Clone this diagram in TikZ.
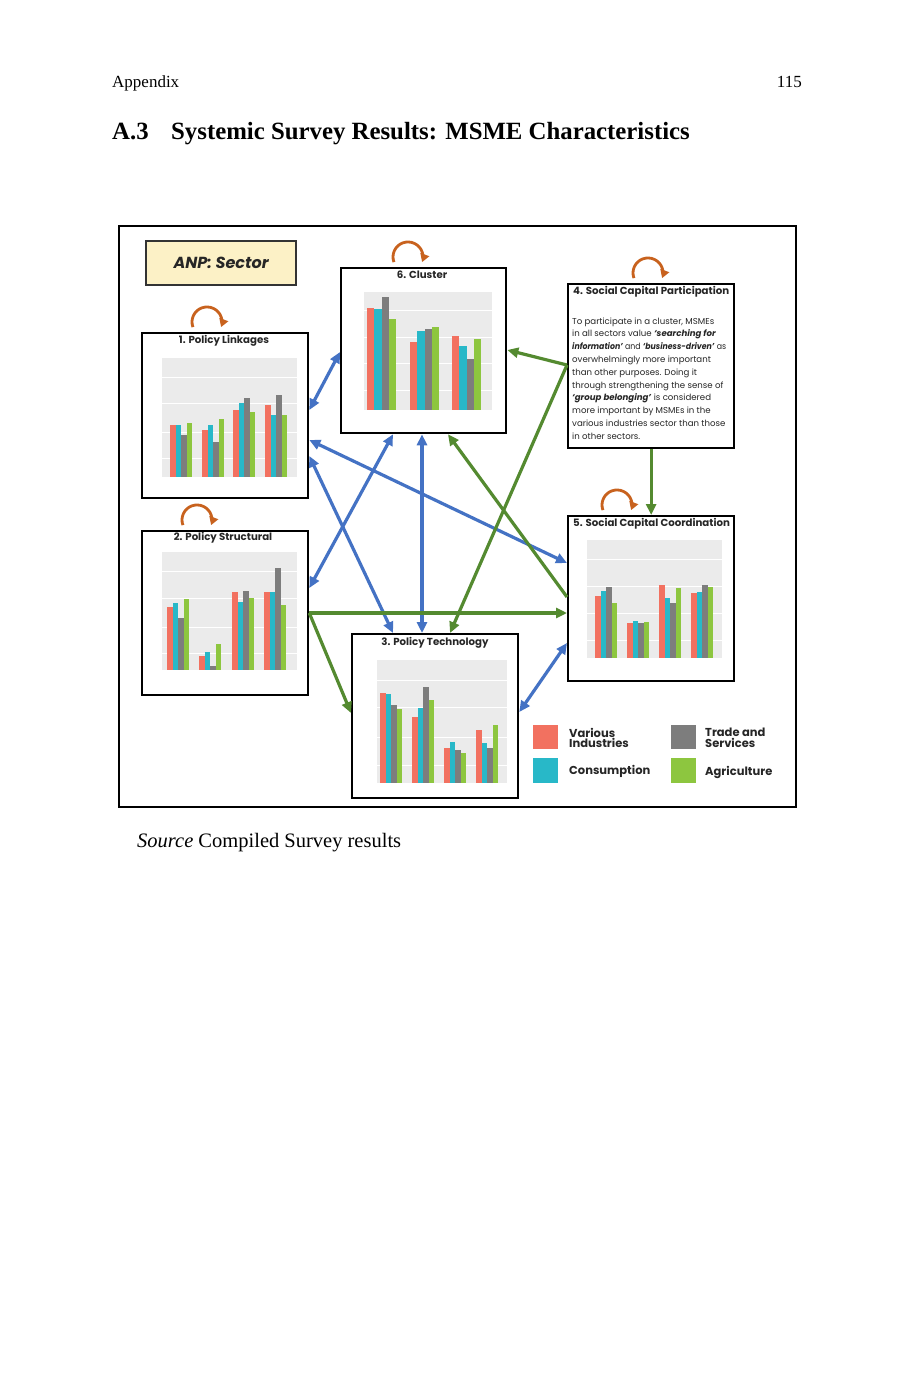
\documentclass[tikz,border=0pt]{standalone}
\usepackage{fontspec}
\usepackage{graphicx}
\setmainfont{Liberation Serif}
\newfontfamily\gf{Poppins}
\usetikzlibrary{arrows.meta,calc}
\definecolor{cVI}{RGB}{242,113,96}
\definecolor{cCO}{RGB}{40,184,200}
\definecolor{cTS}{RGB}{125,125,125}
\definecolor{cAG}{RGB}{141,198,63}
\definecolor{cBL}{RGB}{68,114,196}
\definecolor{cGR}{RGB}{84,138,48}
\definecolor{cOR}{RGB}{200,98,30}
\definecolor{cPL}{RGB}{235,235,235}
\definecolor{cAN}{RGB}{252,241,198}
% bar group: #1 baseline, #2 bar width, #3 x start, #4..#7 tops
\newcommand\mygrp[7]{%
  \fill[cVI] (#3,#4) rectangle ({#3+#2},#1);
  \fill[cCO] ({#3+#2},#5) rectangle ({#3+2*#2},#1);
  \fill[cTS] ({#3+2*#2},#6) rectangle ({#3+3*#2},#1);
  \fill[cAG] ({#3+3*#2},#7) rectangle ({#3+4*#2},#1);}
% plot area: #1 x1, #2 y1, #3 x2, #4 y2, #5 grid list
\newcommand\myplot[5]{%
  \fill[cPL] (#1,#2) rectangle (#3,#4);
  \foreach \gy in {#5} {\draw[white,line width=0.6pt] (#1,\gy) -- (#3,\gy);}}
\begin{document}
\begin{tikzpicture}[x=1pt,y=-1pt,
  box/.style={draw=black,line width=2.3pt,fill=white,anchor=north west,inner sep=0pt},
  ttl/.style={font=\gf\bfseries\fontsize{10.2}{12}\selectfont,text=black!85,inner sep=0pt},
  body/.style={font=\gf\fontsize{8.6}{10}\selectfont,text=black!85,inner sep=0pt,anchor=base west},
  leg/.style={font=\gf\bfseries\fontsize{11.5}{10.5}\selectfont,text=black!85,inner sep=0pt,anchor=west,align=left},
  bl/.style={draw=cBL,line width=3.2pt,{Triangle[length=11pt,width=10pt]}-{Triangle[length=11pt,width=10pt]}},
  gr/.style={draw=cGR,line width=3.2pt,-{Triangle[length=11pt,width=10pt]}},
  lp/.style={draw=cOR,line width=2.8pt,-{Triangle[length=8pt,width=9pt]}},
]
\useasboundingbox (0,0) rectangle (916,1388);
\fill[white] (0,0) rectangle (916,1388);

% page header
\node[anchor=base west,inner sep=0pt,font=\fontsize{17}{20}\selectfont] (hd) at (112,88) {Appendix};
\node[anchor=base east,inner sep=0pt,font=\fontsize{17}{20}\selectfont] (pg) at (802,88) {115};
\node[anchor=base west,inner sep=0pt,font=\bfseries\fontsize{24.8}{30}\selectfont] (sec) at (112,140) {A.3};
\node[anchor=base west,inner sep=0pt,font=\bfseries\fontsize{24.8}{30}\selectfont] (ttl) at (171,140) {Systemic Survey Results: MSME Characteristics};

% outer frame
\node[draw=black,line width=2.2pt,anchor=north west,minimum width=677,minimum height=581,inner sep=0pt] (frame) at (118,225) {};

% ANP box
\node[draw=black!80,fill=cAN,line width=2.2pt,anchor=north west,minimum width=150,minimum height=44,inner sep=0pt,
  font=\gf\bfseries\itshape\fontsize{16}{18}\selectfont,text=black!85] (anp) at (145,240) {ANP: Sector};

% boxes
\node[box,minimum width=166,minimum height=165] (b1) at (141,332) {};
\node[box,minimum width=166,minimum height=164] (b2) at (141,530) {};
\node[box,minimum width=165,minimum height=165] (b6) at (340,267) {};
\node[box,minimum width=166,minimum height=164] (b4) at (567,283) {};
\node[box,minimum width=166,minimum height=165] (b5) at (567,515) {};
\node[box,minimum width=166,minimum height=164] (b3) at (351,633) {};

% titles
\node[ttl] (t1) at (224,341) {1. Policy Linkages};
\node[ttl] (t2) at (223,538) {2. Policy Structural};
\node[ttl] (t6) at (422,275) {6. Cluster};
\node[ttl,anchor=west] (t4) at (573,292) {4. Social Capital Participation};
\node[ttl,anchor=west] (t5) at (573,524) {5. Social Capital Coordination};
\node[ttl] (t3) at (435,643) {3. Policy Technology};

% chart 1
\myplot{162}{358}{297}{477}{377,403,432,458}
\mygrp{477}{5.5}{170}{425}{425}{435}{423}
\mygrp{477}{5.5}{202}{430}{425}{442}{419}
\mygrp{477}{5.5}{233}{410}{403}{398}{412}
\mygrp{477}{5.5}{265}{405}{415}{395}{415}
% chart 2
\myplot{162}{552}{297}{670}{571,598,627,653}
\mygrp{670}{5.6}{167}{607}{603}{618}{599}
\mygrp{670}{5.6}{199}{656}{652}{666}{644}
\mygrp{670}{5.6}{232}{592}{602}{591}{598}
\mygrp{670}{5.6}{264}{592}{592}{568}{605}
% chart 6
\myplot{364}{292}{492}{410}{310,337,363,390}
\mygrp{410}{7.3}{367}{308}{309}{297}{319}
\mygrp{410}{7.3}{410}{342}{331}{329}{327}
\mygrp{410}{7.3}{452}{336}{346}{359}{339}
% chart 5
\myplot{587}{540}{722}{658}{559,586,613,640}
\mygrp{658}{5.5}{595}{596}{591}{587}{603}
\mygrp{658}{5.5}{627}{623}{621}{623}{622}
\mygrp{658}{5.5}{659}{585}{598}{603}{588}
\mygrp{658}{5.5}{691}{593}{592}{585}{587}
% chart 3
\myplot{377}{660}{507}{783}{680,707,737,765}
\mygrp{783}{5.6}{380}{693}{694}{705}{709}
\mygrp{783}{5.6}{412}{717}{708}{687}{700}
\mygrp{783}{5.6}{444}{748}{742}{750}{753}
\mygrp{783}{5.6}{476}{730}{743}{748}{725}

% box 4 text
\node[body] (l1) at (572,324) {To participate in a cluster, MSMEs};
\node[body] (l2) at (572,336.8) {in all sectors value \textbf{\itshape ‘searching for}};
\node[body] (l3) at (572,349.6) {\scalebox{0.91}[1]{\textbf{\itshape information’} and \textbf{\itshape ‘business-driven’} as}};
\node[body] (l4) at (572,362.4) {overwhelmingly more important};
\node[body] (l5) at (572,375.2) {than other purposes. Doing it};
\node[body] (l6) at (572,388) {through strengthening the sense of};
\node[body] (l7) at (572,400.8) {\textbf{\itshape ‘group belonging’} is considered};
\node[body] (l8) at (572,413.6) {more important by MSMEs in the};
\node[body] (l9) at (572,426.4) {various industries sector than those};
\node[body] (l10) at (572,439.2) {in other sectors.};

% legend
\node[fill=cVI,minimum width=25,minimum height=24,inner sep=0pt,anchor=north west] (s1) at (533,725) {};
\node[fill=cTS,minimum width=25,minimum height=24,inner sep=0pt,anchor=north west] (s2) at (671,725) {};
\node[fill=cCO,minimum width=25,minimum height=25,inner sep=0pt,anchor=north west] (s3) at (533,758) {};
\node[fill=cAG,minimum width=25,minimum height=25,inner sep=0pt,anchor=north west] (s4) at (671,758) {};
\node[leg] (e1) at (569,738) {Various\\Industries};
\node[leg] (e2) at (705,738) {Trade and\\Services};
\node[leg] (e3) at (569,771) {Consumption};
\node[leg] (e4) at (705,772) {Agriculture};

% connectors
\draw[bl] ($(b1.north east)+(0,78)$) -- ($(b6.north west)+(0,85)$);
\draw[bl] ($(b1.north east)+(0,108)$) -- ($(b5.north west)+(0,48)$);
\draw[bl] ($(b1.north east)+(0,124)$) -- ($(b3.north west)+(42,0)$);
\draw[bl] ($(b2.north east)+(0,58)$) -- ($(b6.south west)+(53,0)$);
\draw[bl] ($(b6.south west)+(82,0)$) -- ($(b3.north west)+(71,0)$);
\draw[bl] ($(b3.north east)+(0,79)$) -- ($(b5.north west)+(0,128)$);
\draw[gr] ($(b4.north west)+(0,82)$) -- ($(b6.north east)+(0,83)$);
\draw[gr] ($(b4.north west)+(0,82)$) -- ($(b3.north west)+(99,0)$);
\draw[gr] ($(b5.north west)+(0,82)$) -- ($(b6.south west)+(108,0)$);
\draw[gr] ($(b2.north east)+(0,83)$) -- ($(b5.north west)+(0,98)$);
\draw[gr] ($(b2.north east)+(0,83)$) -- ($(b3.north west)+(0,80)$);
\draw[gr] (b4.south) -- (b5.north);

% self loops
\draw[lp] ($(b1.north west)+(51.9,-4.9)$) arc[start angle=-200,end angle=20,radius=15];
\draw[lp] ($(b6.north west)+(53.9,-4.9)$) arc[start angle=-200,end angle=20,radius=15];
\draw[lp] ($(b4.north west)+(66.9,-4.9)$) arc[start angle=-200,end angle=20,radius=15];
\draw[lp] ($(b5.north west)+(35.9,-4.9)$) arc[start angle=-200,end angle=20,radius=15];
\draw[lp] ($(b2.north west)+(41.9,-4.9)$) arc[start angle=-200,end angle=20,radius=15];

% source
\node[anchor=base west,inner sep=0pt,font=\fontsize{20.5}{24}\selectfont] (src) at (137,847) {\textit{Source} Compiled Survey results};
\end{tikzpicture}
\end{document}
